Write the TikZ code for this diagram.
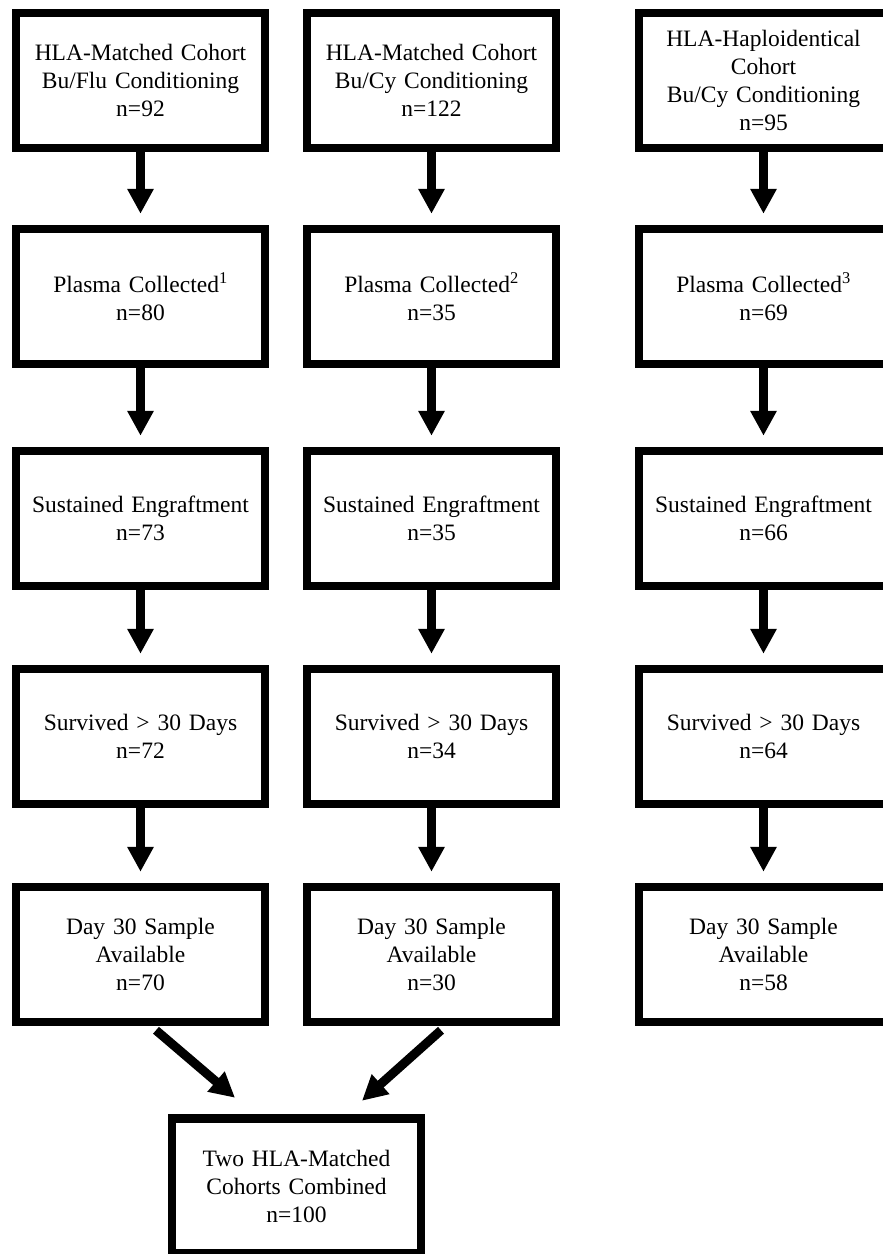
\documentclass[tikz,border=0pt]{standalone}
\usepackage{fontspec}
\setmainfont{Liberation Serif}
\usetikzlibrary{arrows.meta,calc}
\tikzset{
  flowbox/.style={draw=black, line width=8.5pt, fill=white, rectangle,
    minimum width=249pt, minimum height=135pt, inner sep=0pt,
    text width=240pt, align=center,
    font=\fontsize{23.5}{28}\selectfont},
  flowarrow/.style={line width=9pt, -{Triangle[width=25pt,length=25pt]}},
}
\begin{document}
\begin{tikzpicture}[x=1pt,y=-1pt]
\useasboundingbox (0,0) rectangle (883,1254);
\clip (0,0) rectangle (883,1254);
\fill[white] (0,0) rectangle (883,1254);
% column 1
\node[flowbox] (r1c1) at (140.5,80.5) {HLA-Matched Cohort\\Bu/Flu Conditioning\\n=92};
\node[flowbox] (r2c1) at (140.5,296.5) {Plasma Collected\textsuperscript{1}\\n=80};
\node[flowbox] (r3c1) at (140.5,518.5) {Sustained Engraftment\\n=73};
\node[flowbox] (r4c1) at (140.5,736.5) {Survived > 30 Days\\n=72};
\node[flowbox] (r5c1) at (140.5,954.5) {Day 30 Sample\\Available\\n=70};
% column 2
\node[flowbox] (r1c2) at (431.5,80.5) {HLA-Matched Cohort\\Bu/Cy Conditioning\\n=122};
\node[flowbox] (r2c2) at (431.5,296.5) {Plasma Collected\textsuperscript{2}\\n=35};
\node[flowbox] (r3c2) at (431.5,518.5) {Sustained Engraftment\\n=35};
\node[flowbox] (r4c2) at (431.5,736.5) {Survived > 30 Days\\n=34};
\node[flowbox] (r5c2) at (431.5,954.5) {Day 30 Sample\\Available\\n=30};
% column 3
\node[flowbox] (r1c3) at (763.5,80.5) {HLA-Haploidentical\\Cohort\\Bu/Cy Conditioning\\n=95};
\node[flowbox] (r2c3) at (763.5,296.5) {Plasma Collected\textsuperscript{3}\\n=69};
\node[flowbox] (r3c3) at (763.5,518.5) {Sustained Engraftment\\n=66};
\node[flowbox] (r4c3) at (763.5,736.5) {Survived > 30 Days\\n=64};
\node[flowbox] (r5c3) at (763.5,954.5) {Day 30 Sample\\Available\\n=58};
% combined
\node[flowbox] (bot) at (296.5,1186) {Two HLA-Matched\\Cohorts Combined\\n=100};
% vertical arrows
\foreach \c in {c1,c2,c3}{
  \draw[flowarrow, shorten >=11pt] (r1\c.south) -- (r2\c.north);
  \draw[flowarrow, shorten >=11pt] (r2\c.south) -- (r3\c.north);
  \draw[flowarrow, shorten >=11pt] (r3\c.south) -- (r4\c.north);
  \draw[flowarrow, shorten >=11pt] (r4\c.south) -- (r5\c.north);
}
% diagonal arrows
\draw[flowarrow] ($(r5c1.south)+(15.5pt,-4pt)$) -- ($(bot.north)+(-61.5pt,16.5pt)$);
\draw[flowarrow] ($(r5c2.south)+(9.5pt,-4pt)$) -- ($(bot.north)+(65.5pt,13.5pt)$);
\end{tikzpicture}
\end{document}
